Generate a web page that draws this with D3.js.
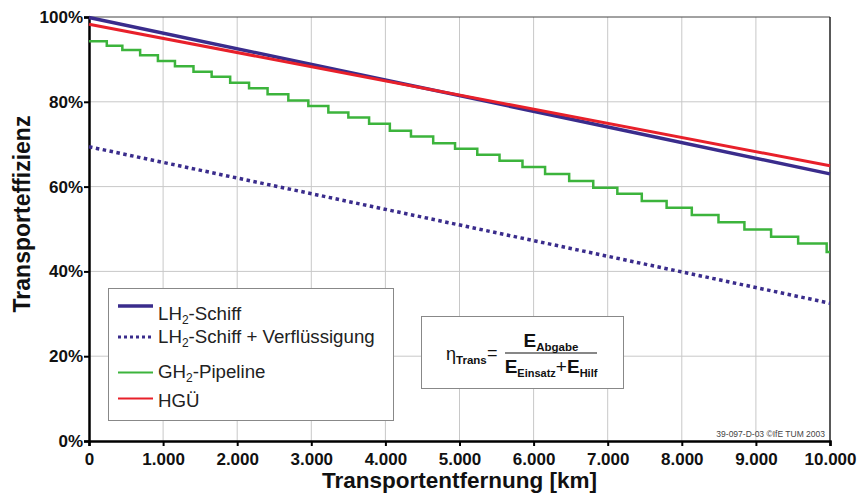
<!DOCTYPE html>
<html>
<head>
<meta charset="utf-8">
<script src="https://cdn.jsdelivr.net/npm/d3@7"></script>
<style>
  body { margin: 0; background: #fff; }
  text { font-family: Arial, 'Liberation Sans', sans-serif; }
</style>
</head>
<body>
<div id="chart"></div>
<script>
// distance in km, efficiency in %
let lineKm = [0, 10000]
let lh2Schiff = [99.9, 63.0]
let lh2Verfl = [69.4, 32.5]
let hgue = [98.3, 64.9]

// GH2 pipeline: km where each step starts, level after the step
let greenKm = [0, 240, 450, 690, 930, 1160, 1410, 1655, 1905, 2160, 2410, 2690, 2960, 3230, 3500,
    3780, 4060, 4345, 4645, 4940, 5240, 5540, 5850, 6155, 6480, 6805, 7130, 7460, 7795,
    8135, 8495, 8845, 9205, 9570, 9955, 10000]
let greenEff = [94.3, 93.2, 92.2, 91.0, 89.6, 88.4, 87.1, 85.9, 84.5, 83.2, 81.8, 80.3, 79.0, 77.5, 76.3,
    74.8, 73.2, 71.8, 70.2, 68.9, 67.5, 66.1, 64.6, 63.0, 61.3, 59.7, 58.3, 56.6, 55.0,
    53.3, 51.6, 49.9, 48.2, 46.6, 44.6, 44.6]

let xTicks = [0, 1000, 2000, 3000, 4000, 5000, 6000, 7000, 8000, 9000, 10000]
let yTicks = [0, 20, 40, 60, 80, 100]

let svgWidth = 861
let svgHeight = 495
let padding = { left: 89, right: 31, top: 17, bottom: 54 }

let blue = '#3a2c8c'
let red = '#e8202a'
let green = '#3cb43c'

let svg = d3.select('#chart').append('svg')
    .attr('width', svgWidth)
    .attr('height', svgHeight)

let x = d3.scaleLinear()
    .domain([0, 10000])
    .range([padding.left, svgWidth - padding.right])
let y = d3.scaleLinear()
    .domain([0, 100])
    .range([svgHeight - padding.bottom, padding.top])

// grid
svg.append('g')
    .selectAll('line')
    .data(xTicks.slice(1, -1))
    .enter()
    .append('line')
    .attr('x1', d => x(d)).attr('x2', d => x(d))
    .attr('y1', y(0)).attr('y2', y(100))
    .attr('stroke', '#c8c8c8')
    .attr('stroke-width', 1)
svg.append('g')
    .selectAll('line')
    .data(yTicks.slice(1, -1))
    .enter()
    .append('line')
    .attr('x1', x(0)).attr('x2', x(10000))
    .attr('y1', d => y(d)).attr('y2', d => y(d))
    .attr('stroke', '#c8c8c8')
    .attr('stroke-width', 1)

// frame top / right
svg.append('line')
    .attr('x1', x(0)).attr('x2', x(10000))
    .attr('y1', y(100)).attr('y2', y(100))
    .attr('stroke', '#444').attr('stroke-width', 1)
svg.append('line')
    .attr('x1', x(10000)).attr('x2', x(10000))
    .attr('y1', y(100)).attr('y2', y(0))
    .attr('stroke', '#222').attr('stroke-width', 1.5)

// axes
let axis_x = d3.axisBottom(x)
    .tickValues(xTicks)
    .tickSize(5)
    .tickFormat(d => d === 0 ? '0' : d3.format(',')(d).replace(',', '.'))
let gx = svg.append('g')
    .attr('transform', `translate(0, ${y(0)})`)
    .call(axis_x)
gx.select('.domain').attr('stroke', '#000').attr('stroke-width', 2.5)
gx.selectAll('.tick line').attr('stroke', '#000').attr('stroke-width', 2)
gx.selectAll('.tick text')
    .attr('font-size', '17px')
    .attr('font-weight', 'bold')
    .attr('font-family', "Arial, 'Liberation Sans', sans-serif")
    .attr('fill', '#111')
    .attr('dy', '0.95em')

let axis_y = d3.axisLeft(y)
    .tickValues(yTicks)
    .tickSize(5)
    .tickFormat(d => d + '%')
let gy = svg.append('g')
    .attr('transform', `translate(${x(0)}, 0)`)
    .call(axis_y)
gy.select('.domain').attr('stroke', '#000').attr('stroke-width', 2.5)
gy.selectAll('.tick line').attr('stroke', '#000').attr('stroke-width', 2)
gy.selectAll('.tick text')
    .attr('font-size', '17px')
    .attr('font-weight', 'bold')
    .attr('font-family', "Arial, 'Liberation Sans', sans-serif")
    .attr('fill', '#111')
    .attr('x', -6)

// axis titles
svg.append('text')
    .attr('x', (x(0) + x(10000)) / 2)
    .attr('y', 488)
    .attr('text-anchor', 'middle')
    .attr('font-size', '22.5px')
    .attr('font-weight', 'bold')
    .attr('fill', '#111')
    .text('Transportentfernung [km]')
svg.append('text')
    .attr('transform', `translate(30, ${214}) rotate(-90)`)
    .attr('text-anchor', 'middle')
    .attr('font-size', '23px')
    .attr('font-weight', 'bold')
    .attr('fill', '#111')
    .text('Transporteffizienz')

// series
let line = d3.line()
    .x(d => x(d[0]))
    .y(d => y(d[1]))
let zip = (a, b) => a.map((d, i) => [d, b[i]])

svg.append('path')
    .datum(zip(lineKm, lh2Verfl))
    .attr('d', line)
    .attr('fill', 'none')
    .attr('stroke', blue)
    .attr('stroke-width', 3.5)
    .attr('stroke-dasharray', '3.5,3.5')

svg.append('path')
    .datum(zip(greenKm, greenEff))
    .attr('d', line.curve(d3.curveStepAfter))
    .attr('fill', 'none')
    .attr('stroke', green)
    .attr('stroke-width', 2.5)
line.curve(d3.curveLinear)

svg.append('path')
    .datum(zip(lineKm, lh2Schiff))
    .attr('d', line)
    .attr('fill', 'none')
    .attr('stroke', blue)
    .attr('stroke-width', 3.5)

svg.append('path')
    .datum(zip(lineKm, hgue))
    .attr('d', line)
    .attr('fill', 'none')
    .attr('stroke', red)
    .attr('stroke-width', 3)

// legend
let legend = svg.append('g')
legend.append('rect')
    .attr('x', 108.5).attr('y', 288.5)
    .attr('width', 285).attr('height', 132)
    .attr('fill', '#fff')
    .attr('stroke', '#888')
    .attr('stroke-width', 1)

let legendItems = [
    { pre: 'LH', sub: '2', post: '-Schiff', color: blue, w: 3.5, dash: null, ly: 306, ty: 320 },
    { pre: 'LH', sub: '2', post: '-Schiff + Verflüssigung', color: blue, w: 3, dash: '3,3', ly: 337, ty: 343 },
    { pre: 'GH', sub: '2', post: '-Pipeline', color: green, w: 2, dash: null, ly: 372.5, ty: 378 },
    { pre: 'HGÜ', sub: '', post: '', color: red, w: 2, dash: null, ly: 398.5, ty: 407 }
]
legendItems.forEach(d => {
    legend.append('line')
        .attr('x1', 118).attr('x2', 153)
        .attr('y1', d.ly).attr('y2', d.ly)
        .attr('stroke', d.color)
        .attr('stroke-width', d.w)
        .attr('stroke-dasharray', d.dash)
    let t = legend.append('text')
        .attr('x', 158).attr('y', d.ty)
        .attr('font-size', '18.7px')
        .attr('fill', '#222')
    t.append('tspan').text(d.pre)
    if (d.sub) {
        t.append('tspan').attr('font-size', '12px').attr('dy', 4).text(d.sub)
        t.append('tspan').attr('dy', -4).text(d.post)
    }
})

// formula box
let f = svg.append('g')
f.append('rect')
    .attr('x', 421.5).attr('y', 316.5)
    .attr('width', 202).attr('height', 72)
    .attr('fill', '#fff')
    .attr('stroke', '#888')
    .attr('stroke-width', 1)
let eta = f.append('text')
    .attr('x', 446).attr('y', 360)
    .attr('font-size', '18px')
    .attr('fill', '#111')
eta.append('tspan').text('η')
eta.append('tspan').attr('font-size', '11.5px').attr('font-weight', 'bold').attr('dy', 4).text('Trans')
f.append('text')
    .attr('x', 487).attr('y', 359)
    .attr('font-size', '18px')
    .attr('fill', '#111')
    .text('=')
f.append('line')
    .attr('x1', 505).attr('x2', 597)
    .attr('y1', 353).attr('y2', 353)
    .attr('stroke', '#111').attr('stroke-width', 1.2)
let num = f.append('text')
    .attr('x', 551).attr('y', 347)
    .attr('text-anchor', 'middle')
    .attr('font-size', '19px')
    .attr('font-weight', 'bold')
    .attr('fill', '#111')
num.append('tspan').text('E')
num.append('tspan').attr('font-size', '11.5px').attr('dy', 4).text('Abgabe')
let den = f.append('text')
    .attr('x', 551).attr('y', 373)
    .attr('text-anchor', 'middle')
    .attr('font-size', '19px')
    .attr('font-weight', 'bold')
    .attr('fill', '#111')
den.append('tspan').text('E')
den.append('tspan').attr('font-size', '11px').attr('dy', 4).text('Einsatz')
den.append('tspan').attr('font-weight', 'normal').attr('dy', -4).text('+')
den.append('tspan').text('E')
den.append('tspan').attr('font-size', '11px').attr('dy', 4).text('Hilf')

// watermark
svg.append('text')
    .attr('x', 825).attr('y', 437)
    .attr('text-anchor', 'end')
    .attr('font-size', '8.5px')
    .attr('fill', '#444')
    .text('39-097-D-03 ©IfE TUM 2003')
</script>
</body>
</html>
